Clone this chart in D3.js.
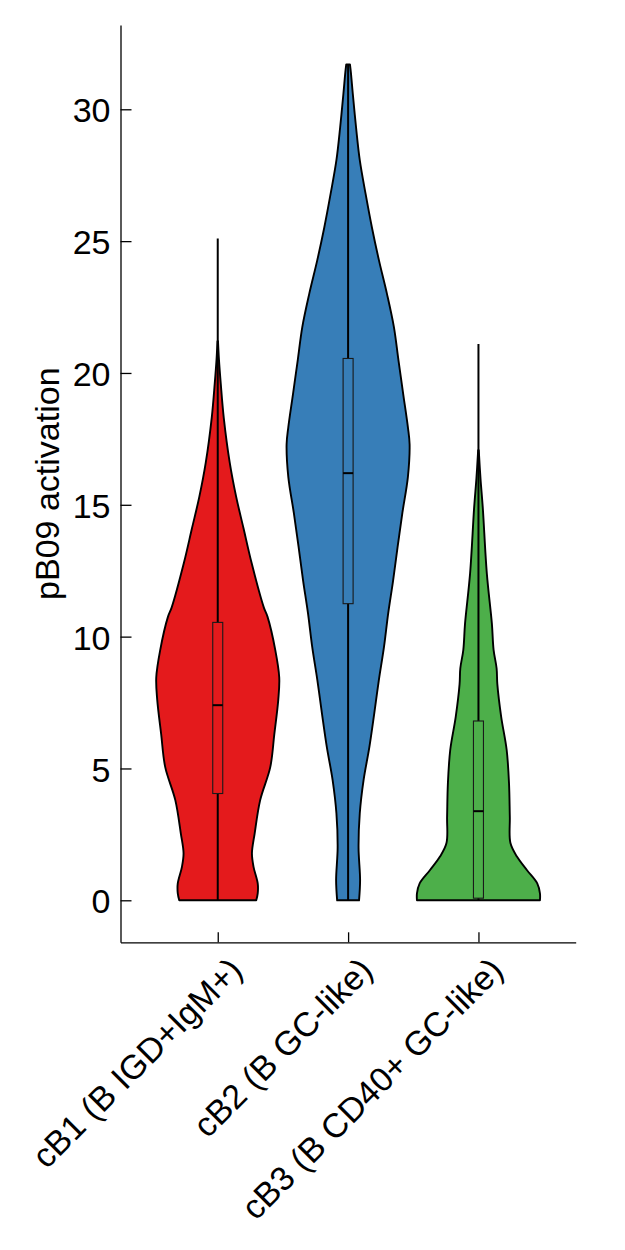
<!DOCTYPE html>
<html>
<head>
<meta charset="utf-8">
<script src="https://cdn.jsdelivr.net/npm/d3@7"></script>
<style>
  html, body { margin: 0; padding: 0; background: #fff; }
  svg { display: block; }
  text { font-family: "Liberation Sans", Arial, Helvetica, sans-serif; fill: #000; }
</style>
</head>
<body>
<svg id="chart" width="625" height="1250"></svg>
<script>
// ---------------- data ----------------
const categories = ["cB1 (B IGD+IgM+)", "cB2 (B GC-like)", "cB3 (B CD40+ GC-like)"];
const colors = ["#e41a1c", "#377eb8", "#4daf4a"];
const yTicks = [0, 5, 10, 15, 20, 25, 30];
const yLabel = "pB09 activation";

// violin profiles: value grid and relative density (max = 1)
const cb1Grid    = [0, 0.26, 0.64, 1.27, 1.78, 2.53, 3.8, 5.05, 6.3, 7.6, 8.45, 9.5, 10.75, 11.1, 12.8, 14.1, 15.3, 16.6, 18.3, 19.6, 20.5, 21.2];
const cb1Density = [0.626, 0.65, 0.65, 0.582, 0.556, 0.60, 0.69, 0.854, 0.92, 0.984, 1.0, 0.935, 0.81, 0.75, 0.55, 0.42, 0.30, 0.195, 0.098, 0.049, 0.02, 0.004];

const cb2Grid    = [0, 0.76, 2.0, 3.3, 4.55, 5.8, 7.1, 8.35, 9.6, 10.9, 12.1, 13.4, 14.7, 16.05, 17.3, 17.95, 19.2, 20.5, 21.74, 23.0, 24.27, 25.5, 26.8, 28.07, 29.3, 30.6, 31.4, 31.7];
const cb2Density = [0.178, 0.195, 0.17, 0.19, 0.251, 0.345, 0.426, 0.50, 0.583, 0.653, 0.73, 0.805, 0.883, 0.972, 1.0, 0.972, 0.896, 0.818, 0.745, 0.632, 0.502, 0.389, 0.284, 0.19, 0.13, 0.076, 0.045, 0.03];

const cb3Grid    = [0, 0.26, 0.64, 1.14, 1.65, 2.17, 3.17, 4.43, 5.7, 6.97, 8.2, 8.8, 9.5, 10.5, 12.4, 14.9, 16.0, 17.07];
const cb3Density = [1.0, 1.0, 0.956, 0.79, 0.628, 0.52, 0.51, 0.497, 0.459, 0.369, 0.307, 0.295, 0.246, 0.218, 0.136, 0.07, 0.033, 0.005];

// box statistics: [min, q1, median, q3, max]
const cb1Box = [0, 4.05, 7.4, 10.54, 25.1];
const cb2Box = [0, 11.25, 16.2, 20.55, 31.7];
const cb3Box = [0, 0.08, 3.38, 6.8, 21.1];

const grids = [cb1Grid, cb2Grid, cb3Grid];
const densities = [cb1Density, cb2Density, cb3Density];
const boxes = [cb1Box, cb2Box, cb3Box];

// ---------------- layout ----------------
const svg = d3.select("#chart");
const mLeft = 120.5, mRight = 575.7, mTop = 25, mBottom = 942.3;
const fontSize = 34;

const y = d3.scaleLinear().domain([-1.593, 33.197]).range([mBottom, mTop]);
const x = d3.scalePoint().domain(categories).range([mLeft, mRight]).padding(0.746);
const w = d3.scaleLinear().domain([0, 1]).range([0, 61.5]);

// violins
const area = d3.area()
  .y(d => y(d[0]))
  .x0(d => d.cx - w(d[1]))
  .x1(d => d.cx + w(d[1]))
  .curve(d3.curveCatmullRom.alpha(0.5));

categories.forEach((c, i) => {
  const cx = x(c);
  const pts = grids[i].map((v, j) => { const p = [v, densities[i][j]]; p.cx = cx; return p; });
  svg.append("path")
    .attr("d", area(pts))
    .attr("fill", colors[i])
    .attr("stroke", "#000")
    .attr("stroke-width", 1.9)
    .attr("stroke-linejoin", "round");

  const b = boxes[i];
  svg.append("line")
    .attr("x1", cx).attr("x2", cx)
    .attr("y1", y(b[0])).attr("y2", y(b[4]))
    .attr("stroke", "#000").attr("stroke-width", 2);
  svg.append("rect")
    .attr("x", cx - 5).attr("width", 10)
    .attr("y", y(b[3])).attr("height", y(b[1]) - y(b[3]))
    .attr("fill", colors[i])
    .attr("stroke", "#1a1a1a").attr("stroke-width", 1.1);
  svg.append("line")
    .attr("x1", cx - 5).attr("x2", cx + 5)
    .attr("y1", y(b[2])).attr("y2", y(b[2]))
    .attr("stroke", "#000").attr("stroke-width", 2);
});

// y axis
const yAxis = d3.axisLeft(y).tickValues(yTicks).tickSizeInner(-11).tickSizeOuter(0).tickPadding(10);
const gy = svg.append("g").attr("transform", `translate(${mLeft},0)`).call(yAxis);
gy.select(".domain").attr("stroke", "#000").attr("stroke-width", 1.3);
gy.selectAll(".tick line").attr("stroke", "#000").attr("stroke-width", 1.3);
gy.selectAll(".tick text")
  .attr("x", -10)
  .attr("dy", null)
  .attr("y", 0.37 * fontSize)
  .style("font-size", fontSize + "px")
  .style("font-family", "'Liberation Sans', Arial, sans-serif")
  .attr("fill", "#000");

// x axis
const xAxis = d3.axisBottom(x).tickSizeInner(-10).tickSizeOuter(0);
const gx = svg.append("g").attr("transform", `translate(0,${mBottom})`).call(xAxis);
gx.select(".domain").attr("stroke", "#000").attr("stroke-width", 1.3);
gx.selectAll(".tick line").attr("stroke", "#000").attr("stroke-width", 1.3);
gx.selectAll(".tick text")
  .attr("x", null).attr("y", null).attr("dy", null)
  .attr("text-anchor", "end")
  .attr("transform", "translate(26,30) rotate(-45)")
  .style("font-size", fontSize + "px")
  .style("font-family", "'Liberation Sans', Arial, sans-serif")
  .attr("fill", "#000");

// y label
svg.append("text")
  .attr("transform", `translate(59,${(mTop + mBottom) / 2}) rotate(-90)`)
  .attr("text-anchor", "middle")
  .style("font-size", fontSize + "px")
  .text(yLabel);
</script>
</body>
</html>
